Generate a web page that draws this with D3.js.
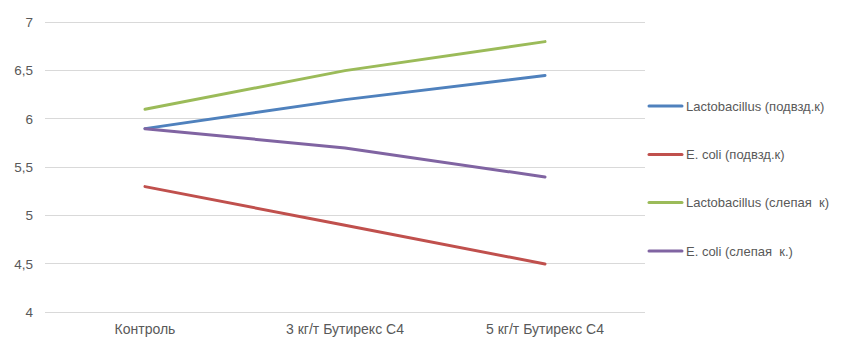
<!DOCTYPE html>
<html><head><meta charset="utf-8">
<script src="https://cdn.jsdelivr.net/npm/d3@7"></script>
<style>body{margin:0;background:#fff}svg{display:block}text{font-family:"Liberation Sans",Arial,sans-serif;fill:#595959}</style>
</head><body><svg id="c" width="843" height="354"></svg>
<script>
const categories = ["Контроль", "3 кг/т Бутирекс С4", "5 кг/т Бутирекс С4"];
const seriesNames = ["Lactobacillus (подвзд.к)", "E. coli (подвзд.к)", "Lactobacillus (слепая  к)", "E. coli (слепая  к.)"];
const lactoIleum = [5.9, 6.2, 6.45];
const ecoliIleum = [5.3, 4.9, 4.5];
const lactoCecum = [6.1, 6.5, 6.8];
const ecoliCecum = [5.9, 5.7, 5.4];
const yTicks = [4, 4.5, 5, 5.5, 6, 6.5, 7];
const colors = ["#4f81bd", "#c0504d", "#9bbb59", "#8064a2"];
const seriesValues = [lactoIleum, ecoliIleum, lactoCecum, ecoliCecum];

const svg = d3.select("#c");
const x = d3.scaleBand().domain(categories).range([45, 645]);
const y = d3.scaleLinear().domain([4, 7]).range([312.3, 22.3]);

svg.append("g").selectAll("line").data(yTicks).join("line")
  .attr("x1", 45).attr("x2", 645).attr("y1", d => y(d)).attr("y2", d => y(d))
  .attr("stroke", "#d9d9d9").attr("stroke-width", 1).attr("shape-rendering", "crispEdges");

const fmt = d => String(d).replace(".", ",");
svg.append("g").selectAll("text").data(yTicks).join("text")
  .attr("x", 33).attr("y", d => y(d)).attr("dy", "0.35em").attr("text-anchor", "end")
  .attr("font-size", 13.5).text(fmt);

svg.append("g").selectAll("text").data(categories).join("text")
  .attr("x", d => x(d) + x.bandwidth() / 2).attr("y", 329.5).attr("dy", "0.35em")
  .attr("text-anchor", "middle").attr("font-size", 14).text(d => d);

const line = d3.line().x((d, i) => x(categories[i]) + x.bandwidth() / 2).y(d => y(d));
seriesValues.forEach((vals, k) => {
  svg.append("path").attr("d", line(vals)).attr("fill", "none")
    .attr("stroke", colors[k]).attr("stroke-width", 3).attr("stroke-linecap", "round");
});

const legendY = [106, 154.5, 202.5, 251];
const lg = svg.append("g");
seriesNames.forEach((n, k) => {
  lg.append("line").attr("x1", 649).attr("x2", 682).attr("y1", legendY[k]).attr("y2", legendY[k])
    .attr("stroke", colors[k]).attr("stroke-width", 3).attr("stroke-linecap", "round");
  lg.append("text").attr("x", 686).attr("y", legendY[k]).attr("dy", "0.35em")
    .attr("font-size", 13).attr("xml:space", "preserve").style("white-space", "pre").text(n);
});
</script></body></html>
